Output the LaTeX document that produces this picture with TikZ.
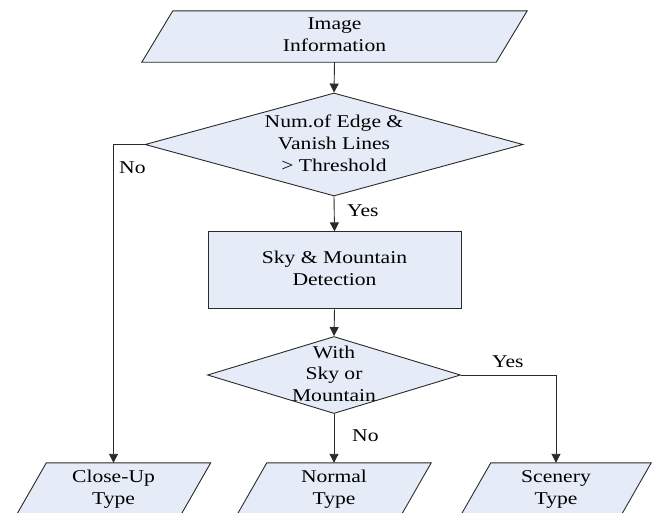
\documentclass[tikz,border=0pt]{standalone}
\usepackage{fontspec}
\newfontfamily\diagfont{Liberation Serif}
\usetikzlibrary{shapes.geometric,arrows.meta,backgrounds}

\definecolor{boxfill}{HTML}{E6ECF7}
\definecolor{edge}{HTML}{2A2A2A}

% text block set slightly wide, as in the drawing
\newcommand\wide[1]{\scalebox{1.2}[1]{\begin{tabular}{@{}c@{}}#1\end{tabular}}}

\tikzset{
  base/.style={draw=edge, line width=0.9pt, fill=boxfill, inner sep=0pt},
  % invisible frame of a data box; the slanted outline is drawn by \dataoutline
  iobox/.style={rectangle, minimum height=52pt, inner sep=0pt, align=center},
  procbox/.style={base, rectangle, minimum width=253pt, minimum height=77pt, align=center},
  decision/.style={base, diamond},
  txt/.style={align=center, inner sep=0pt},
  flow/.style={draw=edge, line width=0.9pt, -{Triangle[width=9pt,length=9pt]}},
  lbl/.style={inner sep=0pt}
}

% slanted (parallelogram) outline around a node; #2 = half of the horizontal slant
\newcommand\dataoutline[2]{%
  \begin{pgfonlayer}{background}
    \draw[base] ([xshift=-#2]#1.south west) -- ([xshift=#2]#1.north west)
      -- ([xshift=#2]#1.north east) -- ([xshift=-#2]#1.south east) -- cycle;
  \end{pgfonlayer}}

\begin{document}
\begin{tikzpicture}[x=1pt, y=-1pt, font=\diagfont\fontsize{18}{21.8}\selectfont]
  \useasboundingbox (0,0) rectangle (652,512);

  % input
  \node[iobox, minimum height=51pt, minimum width=354pt] (img) at (334.5,36.5) {\wide{Image\\Information}};
  \dataoutline{img}{15.5pt}

  % first decision
  \node[decision, minimum width=378pt, minimum height=103pt] (d1) at (334,144.5) {};
  \node[txt] (d1t) at (334,145) {\wide{Num.of Edge \&\\Vanish Lines\\> Threshold}};

  % detection step
  \node[procbox] (sky) at (334.5,270.3) {\wide{Sky \& Mountain\\Detection}};

  % second decision
  \node[decision, minimum width=253pt, minimum height=77pt] (d2) at (334,375) {};
  \node[txt] (d2t) at (334,375.5) {\wide{With\\Sky or\\Mountain}};

  % outputs
  \node[iobox, minimum width=164pt] (close) at (113.5,489) {\wide{Close-Up\\Type}};
  \dataoutline{close}{15pt}
  \node[iobox, minimum width=164pt] (normal) at (334,489) {\wide{Normal\\Type}};
  \dataoutline{normal}{15pt}
  \node[iobox, minimum width=160pt] (scen) at (556,489) {\wide{Scenery\\Type}};
  \dataoutline{scen}{15pt}

  % connectors
  \draw[flow] (img.south) -- (d1.north);
  \draw[flow] (d1.south) -- (sky.north);
  \draw[flow] (sky.south) -- (d2.north);
  \draw[flow] (d1.west) -| (close.north);
  \draw[flow] (d2.south) -- (normal.north);
  \draw[flow] (d2.east) -| (scen.north);

  % branch labels
  \node[lbl, anchor=west] (no1) at (119,169) {\wide{No}};
  \node[lbl, anchor=west] (yes1) at (347,212) {\wide{Yes}};
  \node[lbl, anchor=west] (no2) at (352,437) {\wide{No}};
  \node[lbl, anchor=west] (yes2) at (492,363) {\wide{Yes}};
\end{tikzpicture}
\end{document}
